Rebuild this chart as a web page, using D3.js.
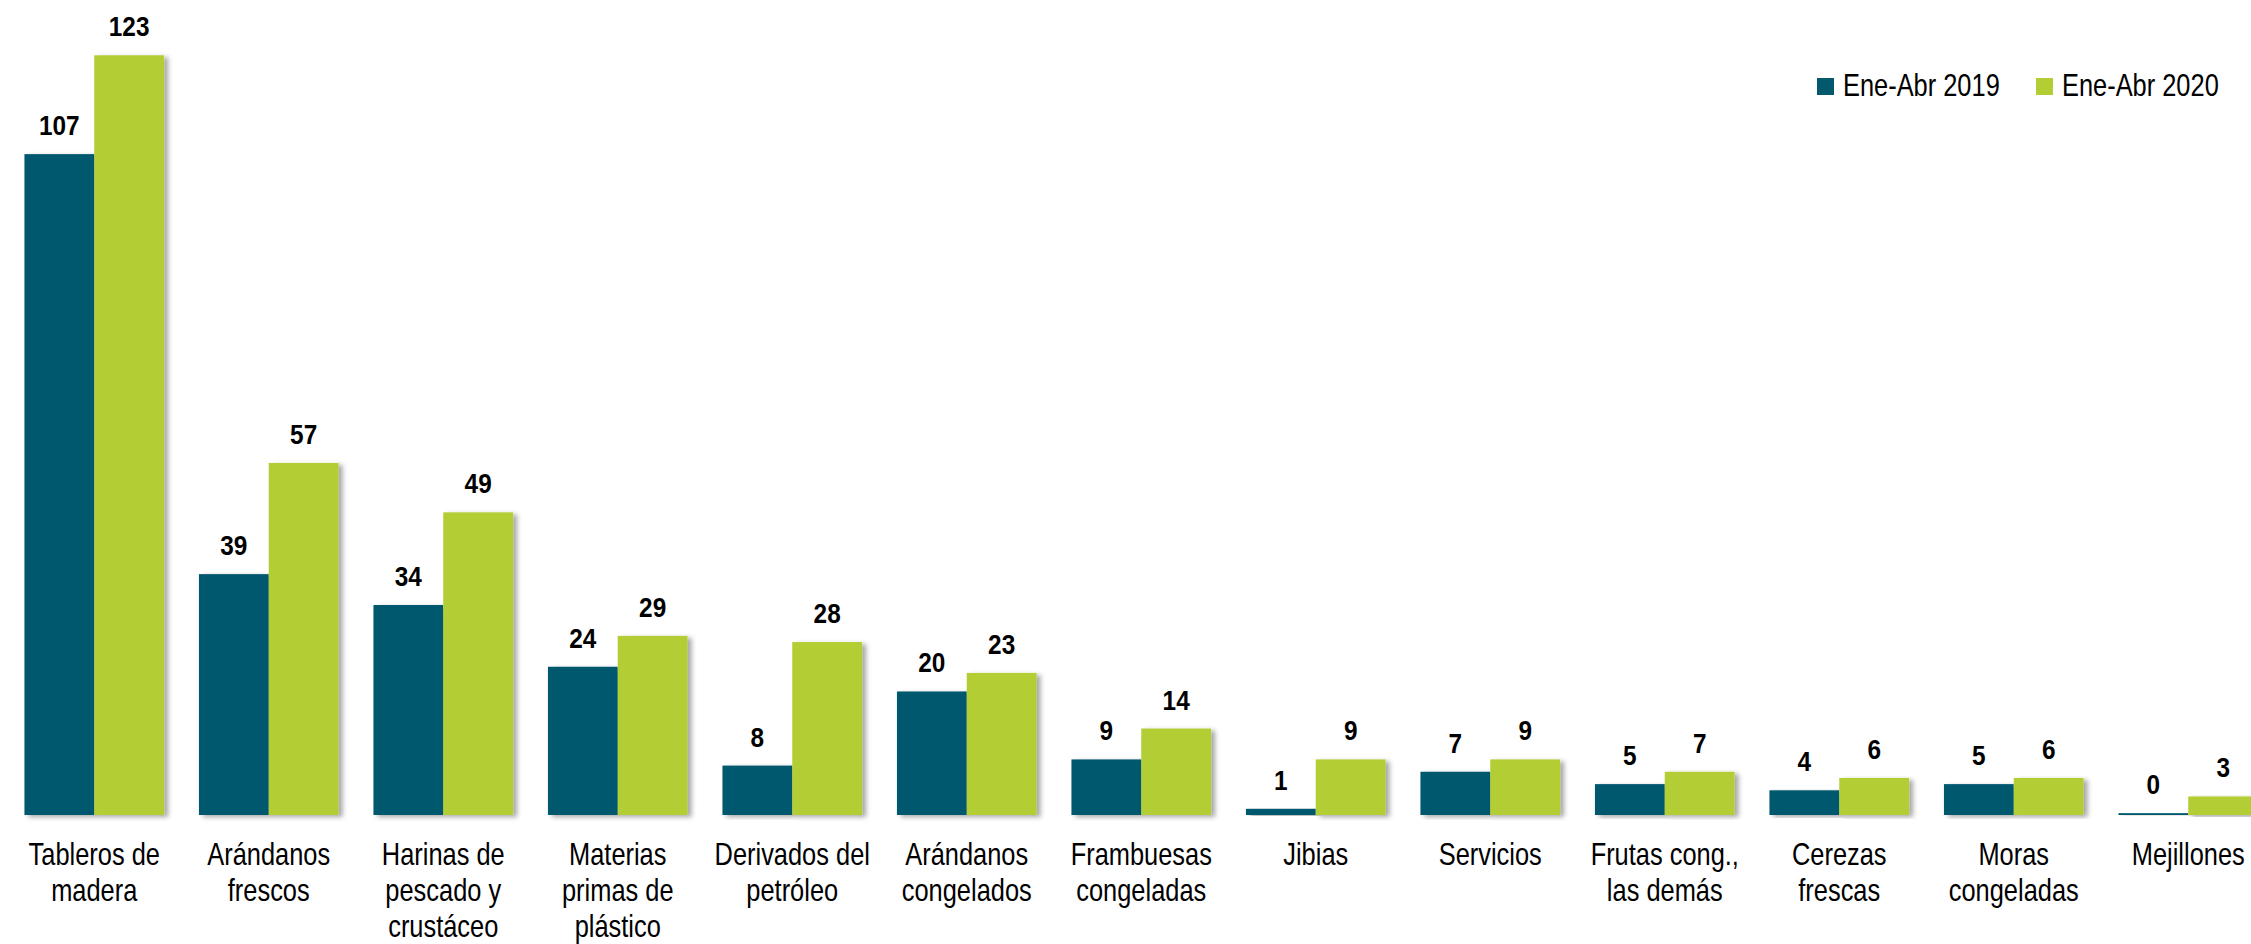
<!DOCTYPE html>
<html>
<head>
<meta charset="utf-8">
<script src="https://cdn.jsdelivr.net/npm/d3@7/dist/d3.min.js"></script>
<style>
  html, body { margin: 0; padding: 0; background: #fff; overflow: hidden; }
  svg { display: block; }
  text { font-family: "Liberation Sans", Arial, sans-serif; }
</style>
</head>
<body>
<script>
// ---- data ----
const categories = [
  ["Tableros de", "madera"],
  ["Arándanos", "frescos"],
  ["Harinas de", "pescado y", "crustáceo"],
  ["Materias", "primas de", "plástico"],
  ["Derivados del", "petróleo"],
  ["Arándanos", "congelados"],
  ["Frambuesas", "congeladas"],
  ["Jibias"],
  ["Servicios"],
  ["Frutas cong.,", "las demás"],
  ["Cerezas", "frescas"],
  ["Moras", "congeladas"],
  ["Mejillones"]
];
const seriesNames = ["Ene-Abr 2019", "Ene-Abr 2020"];
const values2019 = [107, 39, 34, 24, 8, 20, 9, 1, 7, 5, 4, 5, 0.3];
const values2020 = [123, 57, 49, 29, 28, 23, 14, 9, 9, 7, 6, 6, 3];
const colors = ["#02596e", "#b3cd34"];

// ---- layout ----
const W = 2251, H = 944;
const NARROW = 0.82;
const svg = d3.select("body").append("svg").attr("width", W).attr("height", H);

const defs = svg.append("defs");
const f = defs.append("filter").attr("id", "shadow")
  .attr("x", "-20%").attr("y", "-5%").attr("width", "150%").attr("height", "115%");
f.append("feDropShadow").attr("dx", 4).attr("dy", 2).attr("stdDeviation", 2.5)
  .attr("flood-color", "#000").attr("flood-opacity", 0.35);

const baseY = 815;
const x0 = d3.scaleBand()
  .domain(d3.range(categories.length))
  .range([7, 7 + 174.5 * categories.length])
  .paddingInner(0.2).paddingOuter(0.1);
const x1 = d3.scaleBand().domain([0, 1]).range([0, x0.bandwidth()]);
const y = d3.scaleLinear().domain([0, 123]).range([baseY, 55.3]);

// axis line
const axisG = svg.append("g").attr("transform", `translate(0,${baseY + 1})`);
const xAxis = d3.axisBottom(x0).tickSize(0).tickFormat("");
axisG.call(xAxis);
axisG.select(".domain").attr("stroke", "#d4d4d4").attr("stroke-width", 2.5)
  .attr("filter", "url(#shadow)")
  .attr("d", `M7,0H${W + 20}`);

// bars
const rows = categories.map((c, i) => [values2019[i], values2020[i]]);
const groups = svg.append("g").selectAll("g").data(rows).join("g")
  .attr("transform", (d, i) => `translate(${x0(i)},0)`);

groups.selectAll("rect").data(d => d).join("rect")
  .attr("x", (d, j) => x1(j))
  .attr("width", x1.bandwidth())
  .attr("y", d => y(d))
  .attr("height", d => baseY - y(d))
  .attr("fill", (d, j) => colors[j])
  .attr("filter", "url(#shadow)");

groups.selectAll("text.val").data(d => d).join("text")
  .attr("class", "val")
  .attr("transform", (d, j) => `translate(${x1(j) + x1.bandwidth() / 2},${y(d) - 19}) scale(0.87,1)`)
  .attr("text-anchor", "middle")
  .attr("font-size", 28)
  .attr("font-weight", "bold")
  .attr("fill", "#000")
  .text(d => d3.format(".0f")(d));

// category labels
const catG = svg.append("g");
categories.forEach((lines, i) => {
  const t = catG.append("text")
    .attr("transform", `translate(${x0(i) + x0.bandwidth() / 2},865) scale(${NARROW},1)`)
    .attr("text-anchor", "middle")
    .attr("font-size", 31)
    .attr("fill", "#000");
  lines.forEach((ln, k) => {
    t.append("tspan")
      .attr("x", 0)
      .attr("y", k * 36)
      .text(ln);
  });
});

// legend
const legendX = [1817, 2036];
const lg = svg.append("g");
seriesNames.forEach((n, i) => {
  lg.append("rect").attr("x", legendX[i]).attr("y", 78).attr("width", 17).attr("height", 17)
    .attr("fill", colors[i]);
  lg.append("text")
    .attr("transform", `translate(${legendX[i] + 26},96) scale(${NARROW},1)`)
    .attr("font-size", 31).attr("fill", "#000")
    .text(n);
});
</script>
</body>
</html>
